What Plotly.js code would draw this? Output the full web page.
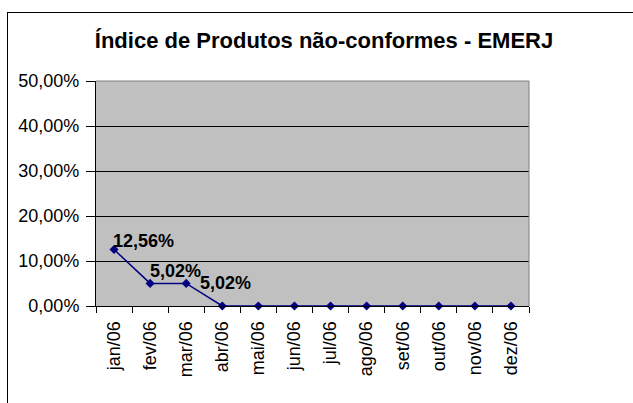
<!DOCTYPE html>
<html>
<head>
<meta charset="utf-8">
<script src="https://cdn.plot.ly/plotly-3.0.1.min.js"></script>
<style>
  html, body { margin: 0; padding: 0; background: #ffffff; overflow: hidden; }
  #wrap { position: relative; width: 633px; height: 403px; }
  #chart { position: absolute; left: 0; top: 0; width: 633px; height: 403px; }
  #frame { position: absolute; left: 7px; top: 12px; width: 700px; height: 500px;
           border-left: 1px solid #000; border-top: 1px solid #000; pointer-events: none; }
</style>
</head>
<body>
<div id="wrap">
  <div id="chart"></div>
  <div id="frame"></div>
</div>
<script>
const months = ["jan/06","fev/06","mar/06","abr/06","mai/06","jun/06","jul/06","ago/06","set/06","out/06","nov/06","dez/06"];
const indexValues = [12.56, 5.02, 5.02, 0, 0, 0, 0, 0, 0, 0, 0, 0];
const labelledPoints = [0, 1, 2];
const yTicks = [0, 10, 20, 30, 40, 50];

const FONT = 'Arial, "Liberation Sans", sans-serif';
const fmt = v => v.toFixed(2).replace('.', ',') + '%';

// label placement (style only)
const labelShift = [[-3, 8], [-2, 12], [12, 0]];

const annotations = labelledPoints.map((i, k) => ({
  x: months[i], y: indexValues[i], xref: 'x', yref: 'y',
  text: '<b>' + fmt(indexValues[i]) + '</b>',
  showarrow: false, xanchor: 'left', yanchor: 'middle',
  xshift: labelShift[k][0], yshift: labelShift[k][1],
  font: {family: FONT, size: 18, color: '#000'}
}));

const trace = {
  type: 'scatter', mode: 'lines+markers',
  x: months, y: indexValues,
  line: {color: '#000080', width: 1.5},
  marker: {symbol: 'diamond', size: 7, color: '#000080'},
  hoverinfo: 'skip', cliponaxis: false
};

const layout = {
  width: 633, height: 403,
  margin: {l: 96, r: 104, t: 81, b: 97},
  paper_bgcolor: 'rgba(0,0,0,0)',
  plot_bgcolor: '#C0C0C0',
  showlegend: false,
  title: {
    text: '<b>Índice de Produtos não-conformes - EMERJ</b>',
    font: {family: FONT, size: 22, color: '#000'},
    x: 324/633, xref: 'container', xanchor: 'center',
    y: 1 - 40/403, yref: 'container', yanchor: 'middle'
  },
  xaxis: {
    type: 'category', range: [-0.5, 11.5],
    tickson: 'boundaries', ticks: 'outside', ticklen: 6, tickcolor: '#000', tickwidth: 1,
    ticklabelstandoff: 7,
    showline: true, linecolor: '#000', linewidth: 1,
    showgrid: false, zeroline: false,
    tickangle: -90,
    tickfont: {family: FONT, size: 18, color: '#000'},
    fixedrange: true
  },
  yaxis: {
    range: [0, 50], tickmode: 'array', tickvals: yTicks, ticktext: yTicks.map(fmt),
    ticks: 'outside', ticklen: 9, tickcolor: '#000', tickwidth: 1,
    ticklabelstandoff: 3,
    showline: true, linecolor: '#000', linewidth: 1,
    showgrid: true, gridcolor: '#000', gridwidth: 1,
    zeroline: false,
    tickfont: {family: FONT, size: 18, color: '#000'},
    fixedrange: true
  },
  shapes: [
    {type: 'line', xref: 'paper', yref: 'paper', x0: 1, x1: 1, y0: 0, y1: 1,
     line: {color: '#808080', width: 1}},
    {type: 'line', xref: 'paper', yref: 'paper', x0: 0, x1: 1, y0: 1, y1: 1,
     line: {color: '#808080', width: 1}}
  ],
  annotations: annotations
};

Plotly.newPlot('chart', [trace], layout, {displayModeBar: false, staticPlot: true});
</script>
</body>
</html>
